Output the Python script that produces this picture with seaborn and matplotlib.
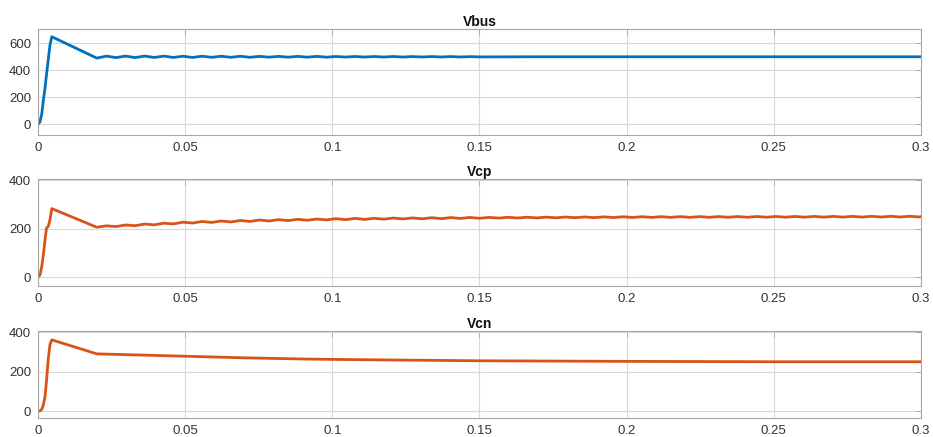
import numpy as np
import pandas as pd
import matplotlib
matplotlib.use("Agg")
import matplotlib.pyplot as plt
import seaborn as sns

# ---- measured waveforms (time in s, voltage in V) ----
# start-up transient, shared sample instants
startup_t = [0, 0.0007, 0.0013, 0.0018, 0.0024, 0.0029, 0.0035, 0.0041, 0.0047]
vbus_startup = [0, 20, 80, 175, 270, 370, 480, 590, 648]
vcp_startup = [0, 10, 45, 90, 155, 203, 210, 238, 283]
vcn_startup = [0, 2, 10, 30, 75, 155, 265, 340, 362]

# ripple extrema from 0.02 s on, half a ripple period apart
ripple_start = 0.02
ripple_half_period = 0.00325
vbus_ripple = [
    490, 505, 494, 505, 494, 505, 495, 505, 495, 504,
    495, 504, 496, 504, 496, 504, 496, 503, 497, 503,
    497, 503, 497, 503, 497, 502, 498, 502, 498, 502,
    498, 502, 498, 501.5, 498.5, 501.5, 498.5, 501.5, 498.5, 501,
    499,
]
vcp_ripple = [
    206, 212, 209, 215.5, 212.5, 219.5, 216, 223, 220, 227,
    223.5, 230, 226, 232, 228, 234, 230, 236, 232, 237.5,
    233.5, 239, 235, 240, 236.5, 241.5, 237.5, 242.5, 238.5, 243,
    239.5, 244, 240.5, 244.5, 241, 245.5, 241.5, 246, 242.5, 246.5,
    243, 246.7, 243.9, 247.1, 244.3, 247.5, 244.7, 247.9, 245.1, 248.3,
    245.5, 248.6, 245.8, 249, 246.2, 249.4, 246.5, 249.6, 246.7, 249.7,
    246.8, 249.9, 246.9, 250, 247.1, 250.1, 247.2, 250.3, 247.3, 250.4,
    247.5, 250.5, 247.6, 250.6, 247.7, 250.8, 247.8, 250.9, 248, 251,
    248.1, 251.2, 248.2, 251.3, 248.4, 251.4, 248.5,
]

vbus_tail_t = [0.17, 0.2, 0.25, 0.3]
vbus_tail = [500, 500, 500, 500]
vcp_tail_t = [0.3]
vcp_tail = [250]
vcn_t = [0.02, 0.025, 0.03, 0.04, 0.05, 0.06, 0.07, 0.08, 0.09, 0.1,
         0.12, 0.15, 0.2, 0.25, 0.3]
vcn_values = [291, 289, 287, 283, 279, 275, 271, 268, 265, 263,
              260, 256, 253, 251, 251]

x_ticks = [0, 0.05, 0.1, 0.15, 0.2, 0.25, 0.3]
x_tick_labels = ["0", "0.05", "0.1", "0.15", "0.2", "0.25", "0.3"]


def ripple_times(values):
    return list(ripple_start + ripple_half_period * np.arange(len(values)))


def trace(t_parts, v_parts):
    return pd.DataFrame({"t": np.concatenate(t_parts),
                         "v": np.concatenate(v_parts)})


vbus = trace([startup_t, ripple_times(vbus_ripple), vbus_tail_t],
             [vbus_startup, vbus_ripple, vbus_tail])
vcp = trace([startup_t, ripple_times(vcp_ripple), vcp_tail_t],
            [vcp_startup, vcp_ripple, vcp_tail])
vcn = trace([startup_t, vcn_t], [vcn_startup, vcn_values])

sns.set_theme(style="white")
plt.rcParams["font.family"] = ["Liberation Sans", "DejaVu Sans"]

fig = plt.figure(figsize=(9.33, 4.37), dpi=100)
fig.patch.set_facecolor("white")

BLUE = "#0072BD"
ORANGE = "#D95319"

panels = [
    # (data, title, colour, axes rect, ylim, yticks)
    (vbus, "Vbus", BLUE, [0.0407, 0.691, 0.9464, 0.2426], (-78, 705), [0, 200, 400, 600]),
    (vcp, "Vcp", ORANGE, [0.0407, 0.3455, 0.9464, 0.2449], (-36, 405), [0, 200, 400]),
    (vcn, "Vcn", ORANGE, [0.0407, 0.0435, 0.9464, 0.1991], (-34, 407), [0, 200, 400]),
]

for df, title, colour, rect, ylim, yticks in panels:
    ax = fig.add_axes(rect)
    sns.lineplot(data=df, x="t", y="v", ax=ax, color=colour, linewidth=2.0,
                 estimator=None, sort=False)
    ax.set_xlim(0, 0.3)
    ax.set_ylim(*ylim)
    ax.set_xticks(x_ticks)
    ax.set_xticklabels(x_tick_labels)
    ax.set_yticks(yticks)
    ax.set_xlabel("")
    ax.set_ylabel("")
    ax.grid(True, color="#d9d9d9", linewidth=0.8)
    ax.set_axisbelow(True)
    for sp in ax.spines.values():
        sp.set_visible(True)
        sp.set_color("#a6a6a6")
        sp.set_linewidth(0.8)
    ax.tick_params(direction="in", length=4, width=0.6, color="#a6a6a6",
                   top=True, right=True, labelsize=9.5, labelcolor="#333333",
                   pad=5)
    ax.set_title(title, fontsize=10, fontweight="bold", color="#111111", pad=2)

fig.savefig("out.png", dpi=100, facecolor="white")
